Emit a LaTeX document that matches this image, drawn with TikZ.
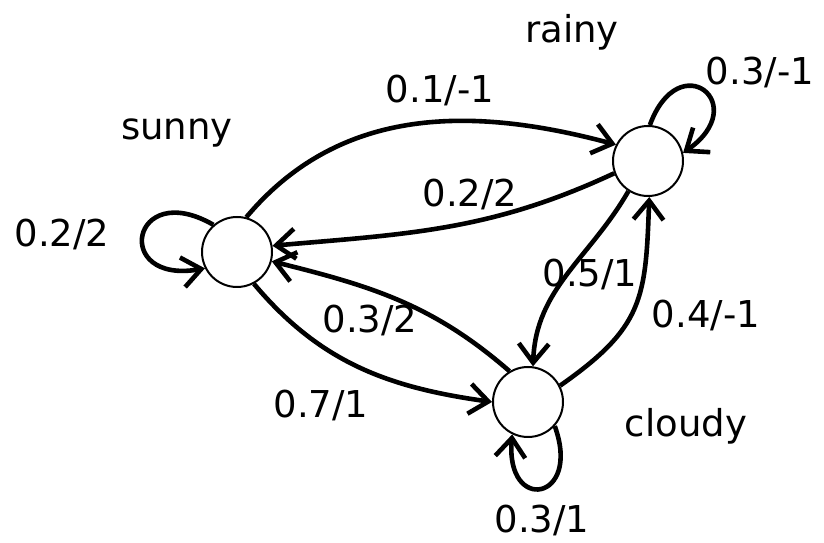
\documentclass[tikz,border=0pt]{standalone}
\usepackage{fontspec}
\setmainfont{DejaVu Sans}
\usetikzlibrary{arrows.meta}
\begin{document}
\begin{tikzpicture}[x=1pt,y=1pt,
  state/.style={circle,draw,line width=2pt,minimum size=70pt,inner sep=0pt},
  edge/.style={line width=4.6pt,-{Straight Barb[length=19pt,width=30pt]}},
  lbl/.style={anchor=base,inner sep=0pt,font=\fontsize{37}{40}\selectfont}]
\useasboundingbox (0,0) rectangle (824,543);
\node[state] (S) at (237,291) {};
\node[state] (R) at (648,382) {};
\node[state] (C) at (528,141) {};
% state names
\node[lbl] (tS) at (177,403) {sunny};
\node[lbl] (tR) at (572,500) {rainy};
\node[lbl] (tC) at (686,106) {cloudy};
% edges
\draw[edge] (S.75) to[out=50,in=165] (R.153);
\draw[edge] (R.200) to[out=205,in=5] (S.10);
\draw[edge] (C.121) to[out=139,in=-14] (S.-15);
\draw[edge] (S.-62) to[out=-50,in=172] (C.180);
\draw[edge] (R.-123) to[out=-120,in=88] (C.82);
\draw[edge] (C.27) to[out=35,in=-92,looseness=1.25] (R.-88);
% loops
\draw[edge] (S.131) .. controls +(150:95) and +(190:95) .. (S.207);
\draw[edge] (R.87) .. controls +(70:85) and +(35:85) .. (R.13);
\draw[edge] (C.-42) .. controls +(-70:80) and +(-95:80) .. (C.-116);
% edge labels
\node[lbl] (l1) at (440,440) {0.1/-1};
\node[lbl] (l2) at (760,458) {0.3/-1};
\node[lbl] (l3) at (470,336) {0.2/2};
\node[lbl] (l4) at (62,296) {0.2/2};
\node[lbl] (l5) at (590,256) {0.5/1};
\node[lbl] (l6) at (706,215) {0.4/-1};
\node[lbl] (l7) at (370,210) {0.3/2};
\node[lbl] (l8) at (321,125) {0.7/1};
\node[lbl] (l9) at (542,10) {0.3/1};
\end{tikzpicture}
\end{document}
